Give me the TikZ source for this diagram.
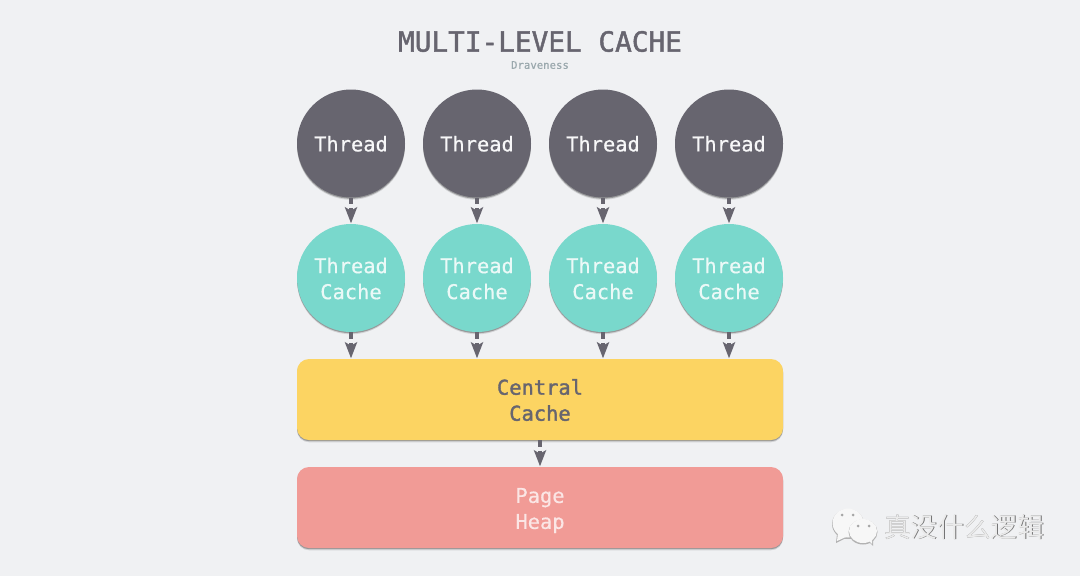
\documentclass[tikz,border=0pt]{standalone}
\usepackage{fontspec}
\newfontfamily\monom[FakeBold=0.5]{DejaVu Sans Mono}
\newfontfamily\monob[FakeBold=1.6]{DejaVu Sans Mono}
\newfontfamily\cjk{Noto Sans CJK SC}
\usetikzlibrary{shadows,arrows.meta,calc}
\definecolor{bgc}{HTML}{F0F1F3}
\definecolor{dark}{HTML}{67656F}
\definecolor{teal}{HTML}{79D8CC}
\definecolor{yel}{HTML}{FCD462}
\definecolor{pink}{HTML}{F19B96}
\definecolor{greyt}{HTML}{9AA8AD}
\tikzset{
  x=0.75pt,y=-0.75pt,
  softshadow/.style={drop shadow={shadow xshift=0pt,shadow yshift=-1.7pt,fill=black,opacity=.12},
                     drop shadow={shadow xshift=0pt,shadow yshift=-0.9pt,fill=black,opacity=.28}},
  disc/.style={circle,minimum size=81pt,inner sep=0pt,softshadow},
  threadn/.style={disc,fill=dark},
  cachen/.style={disc,fill=teal},
  bar/.style={rectangle,rounded corners=9pt,minimum width=364.5pt,minimum height=60.75pt,inner sep=0pt,softshadow},
  capt/.style={align=center,font=\monom\fontsize{15.3}{19.5}\selectfont},
  conn/.style={draw=dark,line width=3pt,dash pattern=on 5pt off 3pt on 30pt off 0pt,
     -{Stealth[length=12pt,width=9pt,inset=2.5pt]},shorten >=0.3pt},
}
\begin{document}
\begin{tikzpicture}
\useasboundingbox[fill=bgc] (0,0) rectangle (1080,576);
\node[text=dark,font=\monob\fontsize{20.8}{24}\selectfont] (title) at (540,41.5) {MULTI-LEVEL CACHE};
\node[text=greyt,font=\monom\fontsize{8}{10}\selectfont] (author) at (540,65) {Draveness};
\foreach \i/\xx in {1/351,2/477,3/603,4/729}{
  \node[threadn,label={[capt,text=white!95!dark,yshift=-0.2pt]center:Thread}] (t\i) at (\xx,143.5) {};
  \node[cachen,label={[capt,text=white!85!teal,yshift=-0.4pt]center:Thread\\Cache}] (c\i) at (\xx,278) {};
}
\node[bar,fill=yel,label={[capt,text=dark,yshift=-0.4pt,font=\monob\fontsize{15.3}{19.5}\selectfont]center:Central\\Cache}] (central) at (540,399.5) {};
\node[bar,fill=pink,label={[capt,text=white!75!pink,yshift=-2.3pt]center:Page\\Heap}] (heap) at (540,507.5) {};
\foreach \i in {1,2,3,4}{
  \draw[conn] (t\i.south) -- (c\i.north);
  \draw[conn] (c\i.south) -- (c\i.south |- central.north);
}
\draw[conn] (central.south) -- (heap.north);
% watermark icon
\fill[black!30] (848,524) ellipse (16 and 15);
\fill[black!30] (837,534) -- (836,543) -- (848,537) -- cycle;
\fill[white!97!black] (848,523) ellipse (15.5 and 14.5);
\fill[white!97!black] (838,533) -- (837,541) -- (848,536) -- cycle;
\fill[black!30] (863,532) ellipse (14.5 and 12.5);
\fill[black!30] (868,541) -- (873,546) -- (873,538) -- cycle;
\fill[white!97!black] (863,531) ellipse (14 and 12);
\fill[white!97!black] (868,540) -- (872,544) -- (872,537) -- cycle;
\foreach \p in {(842,515),(853,515),(858,526),(869,526)} \fill[black!35] \p circle (1.5);
\node[text=black!55,font=\cjk\fontsize{20}{24}\selectfont,inner sep=0pt] (wms) at (964.7,527.7) {真没什么逻辑};
\node[text=white!92!black,font=\cjk\fontsize{20}{24}\selectfont,inner sep=0pt] (wm) at (964,527) {真没什么逻辑};
\end{tikzpicture}
\end{document}
